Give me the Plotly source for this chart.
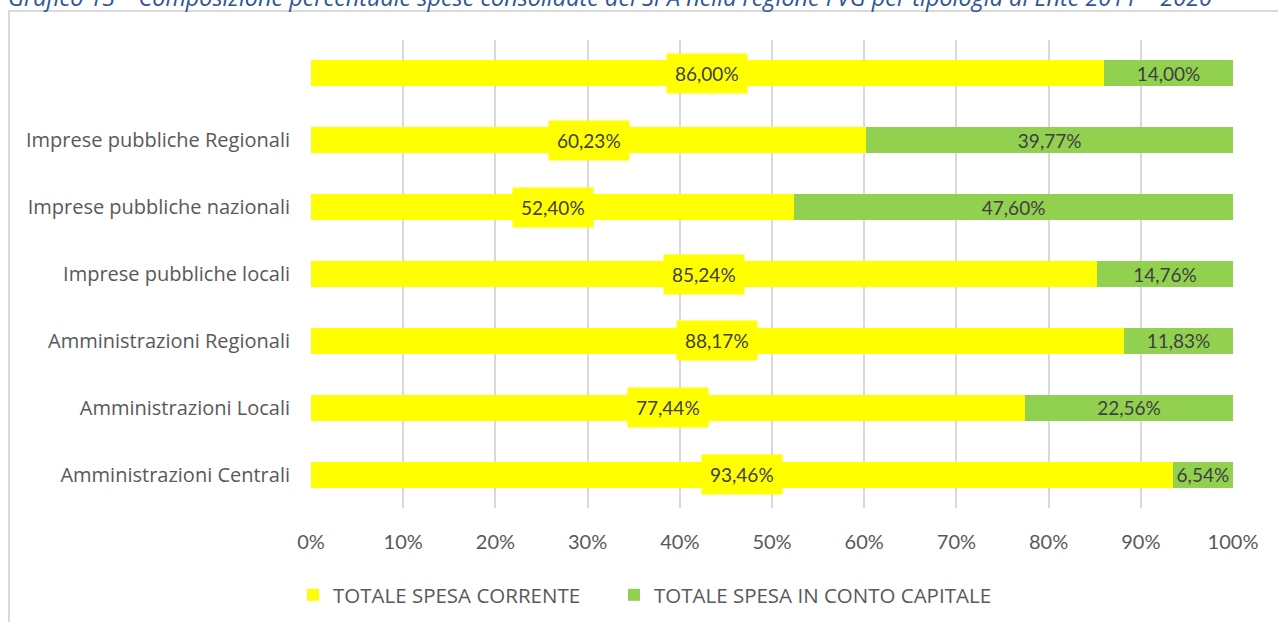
import plotly.graph_objects as go

categories = ["Amministrazioni Centrali", "Amministrazioni Locali", "Amministrazioni Regionali",
              "Imprese pubbliche locali", "Imprese pubbliche nazionali",
              "Imprese pubbliche Regionali", " "]
spesa_corrente = [93.46, 77.44, 88.17, 85.24, 52.40, 60.23, 86.00]
spesa_capitale = [6.54, 22.56, 11.83, 14.76, 47.60, 39.77, 14.00]
x_ticks = [0, 10, 20, 30, 40, 50, 60, 70, 80, 90, 100]
series_names = ["TOTALE SPESA CORRENTE", "TOTALE SPESA IN CONTO CAPITALE"]
title_text = ("Grafico 13 – Composizione percentuale spese consolidate del SPA nella regione FVG "
              "per tipologia di Ente 2011 – 2020")

W, H = 1278, 622
L, R, T, B = 311, 45, 40, 114
PW, PH = W - L - R, H - T - B

def px_x(p):
    return (p - L) / PW

def px_y(p):
    return (H - B - p) / PH

def fmt(v):
    return f"{v:.2f}".replace(".", ",") + "%"

fig = go.Figure()
fig.add_trace(go.Bar(
    y=categories, x=spesa_corrente, orientation="h", name=series_names[0],
    marker=dict(color="#ffff00", line=dict(width=0)), legend="legend",
))
fig.add_trace(go.Bar(
    y=categories, x=spesa_capitale, orientation="h", name=series_names[1],
    marker=dict(color="#92d050", line=dict(width=0)), legend="legend2",
    text=[fmt(v) for v in spesa_capitale], textposition="inside",
    insidetextanchor="middle", constraintext="none", textangle=0,
    textfont=dict(family="Lato", size=19, color="#404040"),
))

annotations = []
for c, v in zip(categories, spesa_corrente):
    annotations.append(dict(
        x=v / 2, y=c, xref="x", yref="y", text=fmt(v), showarrow=False,
        font=dict(family="Lato", size=19, color="#404040"),
        bgcolor="#ffff00", borderpad=8,
    ))
annotations.append(dict(
    x=px_x(6), y=px_y(-3), xref="paper", yref="paper", xanchor="left", yanchor="middle",
    text="<i>" + title_text + "</i>", showarrow=False,
    font=dict(family="Open Sans", size=23.4, color="#2f5597"),
))

legend_style = dict(orientation="h", xanchor="left", y=px_y(575), yanchor="top",
                    font=dict(family="Open Sans", size=20.5, color="#595959"),
                    itemwidth=30, bgcolor="rgba(0,0,0,0)")

fig.update_layout(
    width=W, height=H,
    margin=dict(l=L, r=R, t=T, b=B, autoexpand=False),
    barmode="stack", bargap=0.61,
    plot_bgcolor="white", paper_bgcolor="white",
    xaxis=dict(range=[0, 100], tickvals=x_ticks, ticktext=[f"{t}%" for t in x_ticks],
               showgrid=True, gridcolor="#d9d9d9", gridwidth=2, zeroline=False,
               showline=False, ticks="", ticklabelstandoff=20,
               tickfont=dict(family="Lato", size=20, color="#595959")),
    yaxis=dict(showgrid=False, zeroline=False, showline=False, ticks="",
               ticklabelstandoff=20,
               tickfont=dict(family="Open Sans", size=20, color="#595959")),
    showlegend=True,
    legend=dict(x=px_x(293), **legend_style),
    legend2=dict(x=px_x(614), **legend_style),
    annotations=annotations,
    shapes=[dict(type="rect", xref="paper", yref="paper",
                 x0=px_x(9), x1=px_x(1300), y0=px_y(11), y1=px_y(700),
                 line=dict(color="#d9d9d9", width=2), fillcolor="rgba(0,0,0,0)", layer="below")],
)

fig.write_html("out.html", config={"displayModeBar": False},
               post_script="document.body.style.margin='0px';document.body.style.overflow='hidden';")
